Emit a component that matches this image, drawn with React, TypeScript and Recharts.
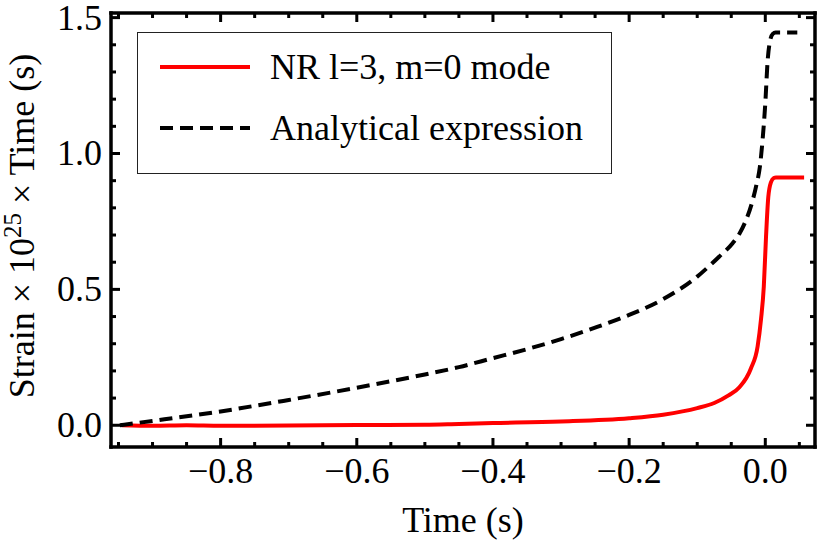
import { LineChart, Line, XAxis, YAxis, Legend, Label } from 'recharts'

// time axis (s) and values
const nrTime = [-0.945, -0.9, -0.85, -0.8, -0.7, -0.6, -0.5, -0.45, -0.4, -0.3, -0.2, -0.15, -0.1, -0.075, -0.054, -0.038, -0.021, -0.0113, -0.0063, -0.0022, 0.001, 0.0044, 0.0084, 0.0125, 0.0157, 0.057]
const nrStrain = [0.0, -0.002, 0.0, -0.002, -0.001, 0.001, 0.002, 0.005, 0.008, 0.014, 0.026, 0.039, 0.063, 0.082, 0.11, 0.14, 0.21, 0.29, 0.39, 0.51, 0.69, 0.84, 0.895, 0.91, 0.912, 0.912]

const anTime = [-0.948, -0.9, -0.8, -0.7, -0.6, -0.5, -0.45, -0.4, -0.35, -0.3, -0.25, -0.2, -0.15, -0.1, -0.078, -0.0675, -0.048, -0.038, -0.03, -0.02, -0.013, -0.008, -0.004, 0.0, 0.0034, 0.007, 0.011, 0.015, 0.047]
const anStrain = [0.0, 0.016, 0.051, 0.093, 0.138, 0.187, 0.214, 0.247, 0.28, 0.317, 0.359, 0.406, 0.464, 0.547, 0.596, 0.621, 0.67, 0.705, 0.745, 0.815, 0.885, 0.95, 1.05, 1.185, 1.34, 1.415, 1.44, 1.445, 1.445]

const seriesNames = ['NR l=3, m=0 mode', 'Analytical expression']

const xMajor = [-0.8, -0.6, -0.4, -0.2, 0.0]
const xTicks = [-0.95, -0.9, -0.85, -0.8, -0.75, -0.7, -0.65, -0.6, -0.55, -0.5, -0.45, -0.4, -0.35, -0.3, -0.25, -0.2, -0.15, -0.1, -0.05, 0.0, 0.05]
const yMajor = [0.0, 0.5, 1.0, 1.5]
const yTicks = [0.0, 0.1, 0.2, 0.3, 0.4, 0.5, 0.6, 0.7, 0.8, 0.9, 1.0, 1.1, 1.2, 1.3, 1.4, 1.5]

const nrData = nrTime.map((t, i) => ({ t, v: nrStrain[i] }))
const anData = anTime.map((t, i) => ({ t, v: anStrain[i] }))

const FONT = 'Liberation Serif, Times New Roman, Times, DejaVu Serif, serif'
const FS = 36
const MAJOR = 9
const MINOR = 5
const TW = 3

const isIn = (list: number[], v: number) => list.some(m => Math.abs(m - v) < 1e-6)
const fmtX = (v: number) => (v < -1e-9 ? '\u2212' + Math.abs(v).toFixed(1) : Math.abs(v).toFixed(1))

function BottomTick({ x, y, payload }: any) {
  const major = isIn(xMajor, payload.value)
  const len = major ? MAJOR : MINOR
  return (
    <g>
      <rect x={x - TW / 2} y={y - len} width={TW} height={len} fill="#000" />
      {major && (
        <text x={x} y={y + 36} textAnchor="middle" fill="#000" fontFamily={FONT} fontSize={FS}>
          {fmtX(payload.value)}
        </text>
      )}
    </g>
  )
}

function TopTick({ x, y, payload }: any) {
  const len = isIn(xMajor, payload.value) ? MAJOR : MINOR
  return <rect x={x - TW / 2} y={y} width={TW} height={len} fill="#000" />
}

function LeftTick({ x, y, payload }: any) {
  const major = isIn(yMajor, payload.value)
  const len = major ? MAJOR : MINOR
  return (
    <g>
      <rect x={x} y={y - TW / 2} width={len} height={TW} fill="#000" />
      {major && (
        <text x={x - 9} y={y + 12} textAnchor="end" fill="#000" fontFamily={FONT} fontSize={FS}>
          {payload.value.toFixed(1)}
        </text>
      )}
    </g>
  )
}

function RightTick({ x, y, payload }: any) {
  const len = isIn(yMajor, payload.value) ? MAJOR : MINOR
  return <rect x={x - len} y={y - TW / 2} width={len} height={TW} fill="#000" />
}

function YTitle() {
  return (
    <text transform="translate(34, 226) rotate(-90)" textAnchor="middle" fill="#000" fontFamily={FONT} fontSize={FS}>
      Strain × 10
      <tspan dy={-13} fontSize={25}>25</tspan>
      <tspan dy={13}> × Time (s)</tspan>
    </text>
  )
}

function XTitle({ viewBox }: any) {
  const cx = viewBox ? viewBox.x + viewBox.width / 2 : 463
  return (
    <text x={cx} y={532} textAnchor="middle" fill="#000" fontFamily={FONT} fontSize={FS}>
      Time (s)
    </text>
  )
}

function LegendBox({ payload }: any) {
  const items = [...(payload || [])].sort(
    (a: any, b: any) => seriesNames.indexOf(a.value) - seriesNames.indexOf(b.value)
  )
  return (
    <div style={{ width: 475, height: 142, border: '1.5px solid #222', boxSizing: 'border-box', background: '#fff' }}>
      <svg width={472} height={139} style={{ display: 'block' }}>
        {items.map((item: any, i: number) => {
          const cy = 34 + i * 61
          const dash = item.payload?.strokeDasharray
          return (
            <g key={i}>
              <line x1={22} x2={112} y1={cy} y2={cy} stroke={item.color} strokeWidth={4} strokeDasharray={dash} />
              <text x={132} y={cy + 12} fill="#000" fontFamily={FONT} fontSize={FS}>{item.value}</text>
            </g>
          )
        })}
      </svg>
    </div>
  )
}

const axisLine = { stroke: '#000', strokeWidth: 3.5, strokeLinecap: 'square' as const }

export default function App() {
  return (
    <div style={{ position: 'absolute', left: 0, top: 0, background: '#fff', fontFamily: FONT }}>
      <LineChart width={822} height={544} margin={{ top: 12, right: 6, bottom: 0, left: 0 }}>
        <XAxis
          xAxisId="bottom"
          type="number"
          dataKey="t"
          domain={[-0.961, 0.073]}
          ticks={xTicks}
          interval={0}
          tickSize={0}
          tickMargin={0}
          tickLine={false}
          axisLine={axisLine}
          tick={<BottomTick />}
          height={97}
          allowDataOverflow
        >
          <Label content={<XTitle />} />
        </XAxis>
        <XAxis
          xAxisId="top"
          orientation="top"
          type="number"
          dataKey="t"
          domain={[-0.961, 0.073]}
          ticks={xTicks}
          interval={0}
          tickSize={0}
          tickMargin={0}
          tickLine={false}
          axisLine={axisLine}
          tick={<TopTick />}
          height={1}
          allowDataOverflow
        />
        <YAxis
          yAxisId="left"
          type="number"
          domain={[-0.08, 1.517]}
          ticks={yTicks}
          interval={0}
          tickSize={0}
          tickMargin={0}
          tickLine={false}
          axisLine={axisLine}
          tick={<LeftTick />}
          width={111}
          allowDataOverflow
        >
          <Label content={<YTitle />} />
        </YAxis>
        <YAxis
          yAxisId="right"
          orientation="right"
          type="number"
          domain={[-0.08, 1.517]}
          ticks={yTicks}
          interval={0}
          tickSize={0}
          tickMargin={0}
          tickLine={false}
          axisLine={axisLine}
          tick={<RightTick />}
          width={1}
          allowDataOverflow
        />
        <Legend
          layout="horizontal"
          verticalAlign="middle"
          align="center"
          content={<LegendBox />}
          wrapperStyle={{ left: 137, top: 32, width: 475, height: 142 }}
        />
        <Line
          xAxisId="bottom"
          yAxisId="left"
          data={nrData}
          dataKey="v"
          name={seriesNames[0]}
          type="monotone"
          stroke="#ff0000"
          strokeWidth={4}
          dot={false}
          isAnimationActive={false}
        />
        <Line
          xAxisId="bottom"
          yAxisId="left"
          data={anData}
          dataKey="v"
          name={seriesNames[1]}
          type="monotone"
          stroke="#000000"
          strokeWidth={4}
          strokeDasharray="13 7"
          dot={false}
          isAnimationActive={false}
        />
      </LineChart>
    </div>
  )
}
